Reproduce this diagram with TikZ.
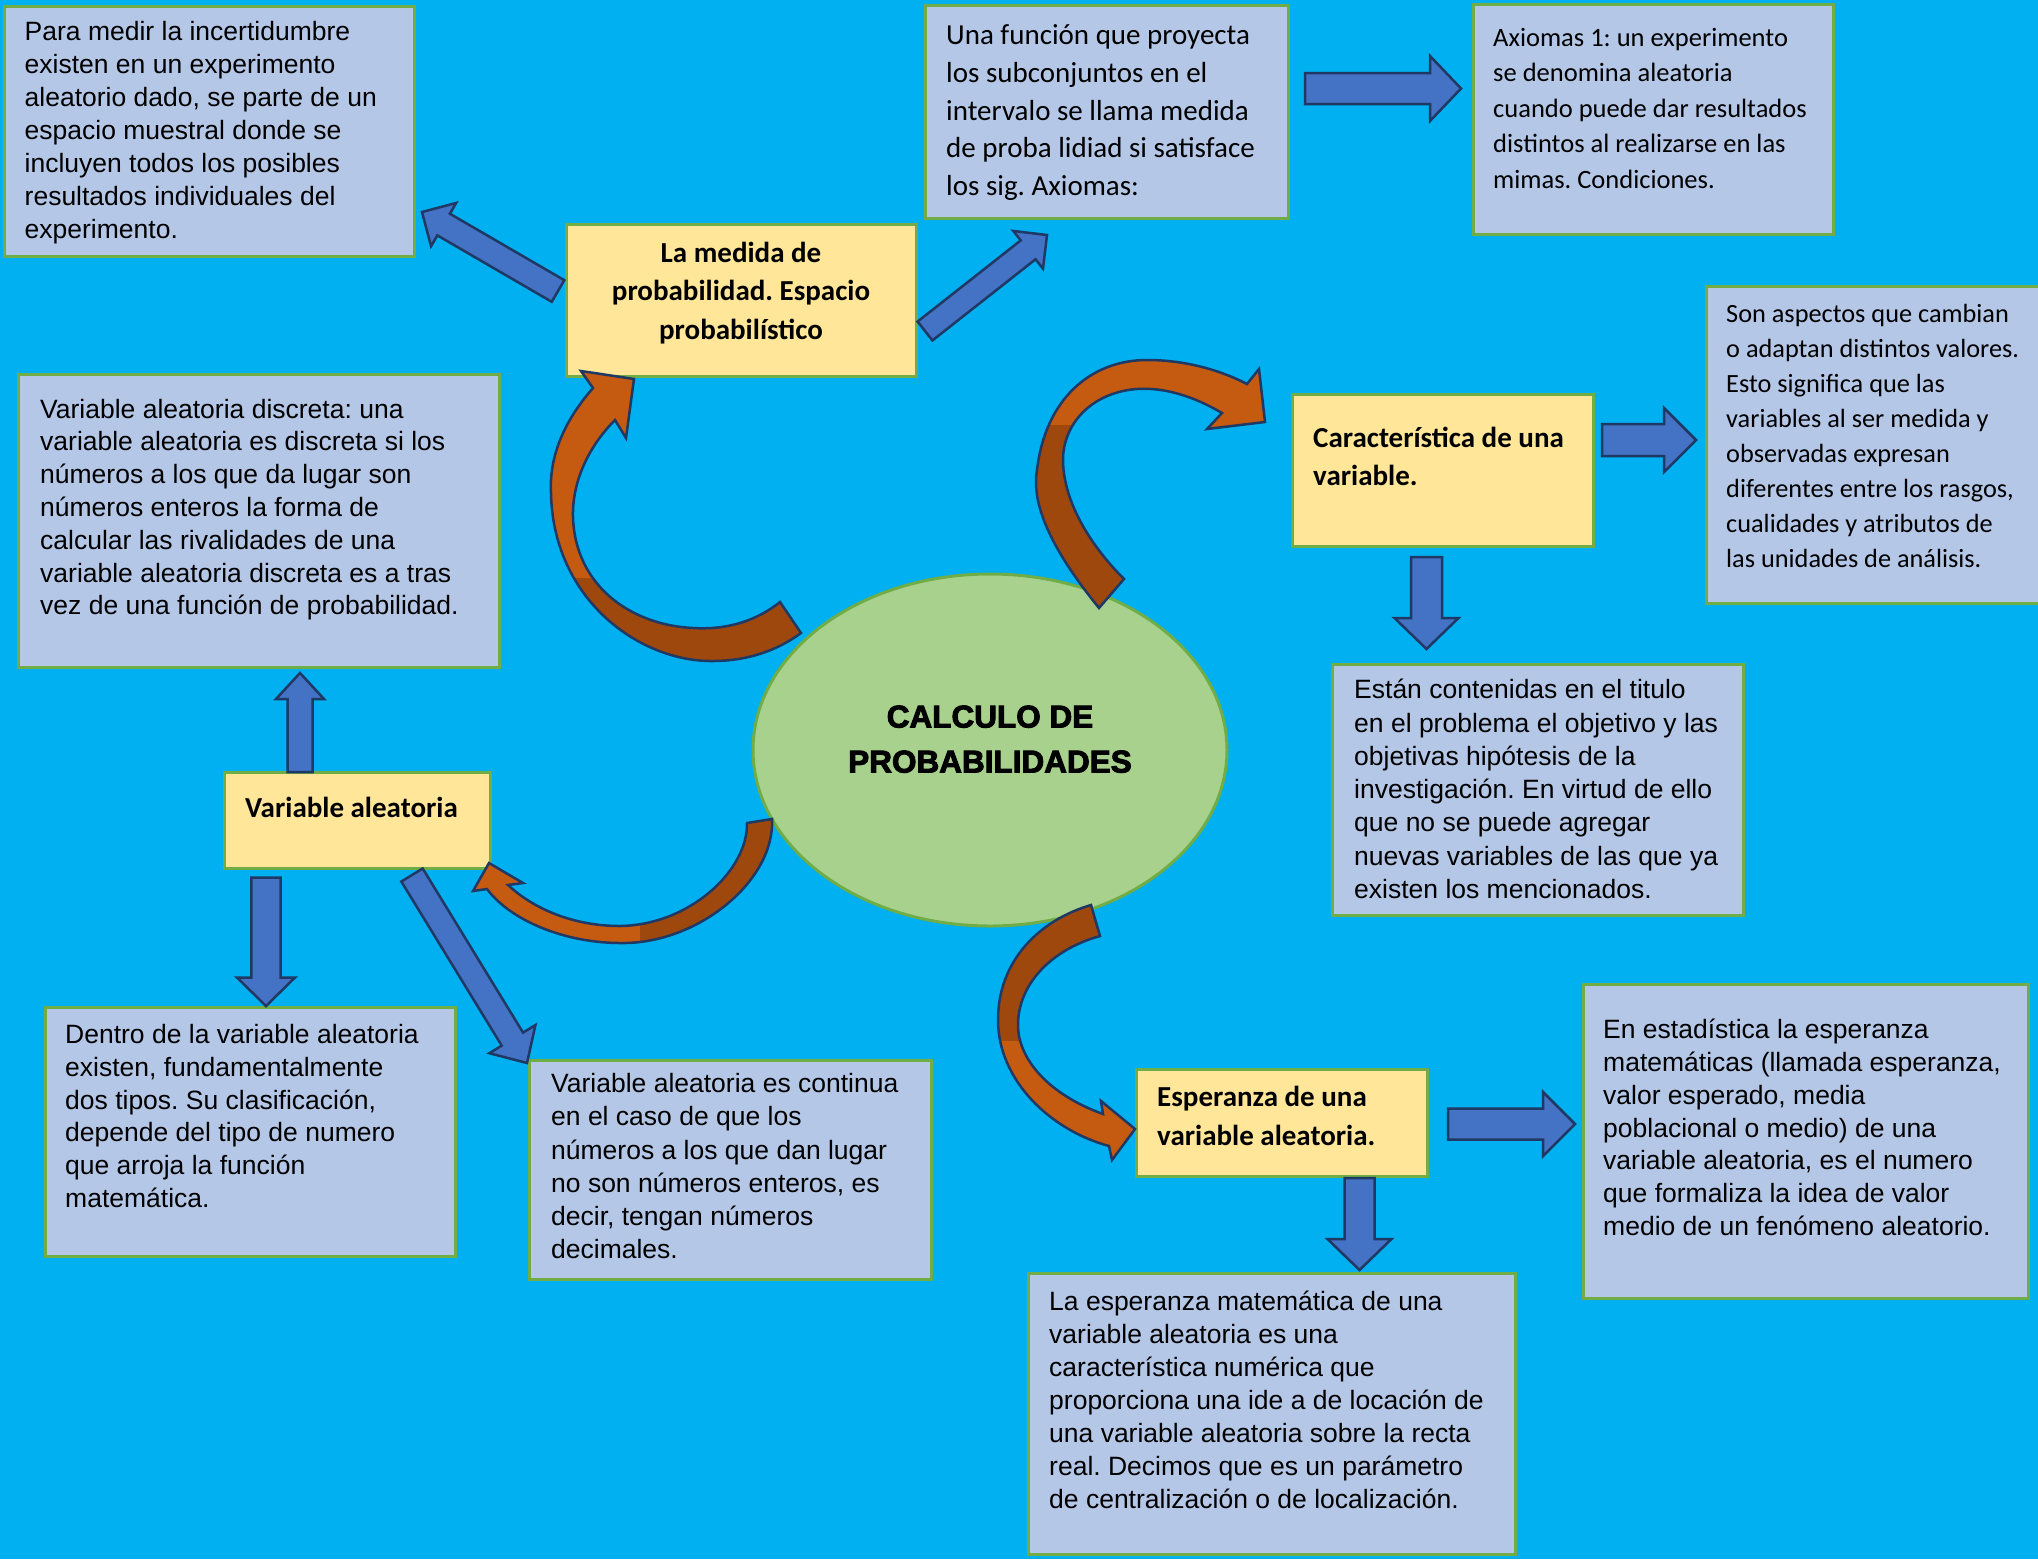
\documentclass[tikz,border=0pt]{standalone}
\usepackage{fontspec}
\setmainfont{Liberation Sans}
\newfontfamily\calib{Carlito}
\newfontfamily\blk{Liberation Sans}[BoldFeatures={FakeBold=3}]
\usetikzlibrary{calc,shapes.geometric}
\definecolor{bg}{HTML}{00B0F0}
\definecolor{boxblue}{HTML}{B4C7E7}
\definecolor{boxyel}{HTML}{FFE699}
\definecolor{grn}{HTML}{70AD47}
\definecolor{ell}{HTML}{A9D18E}
\definecolor{arrblue}{HTML}{4472C4}
\definecolor{navy}{HTML}{203864}
\definecolor{orL}{HTML}{C55A11}
\definecolor{orD}{HTML}{9E480E}
\tikzset{
  bluebox/.style={draw=grn, fill=boxblue, line width=3pt, inner sep=0pt, outer sep=0pt},
  yelbox/.style={draw=grn, fill=boxyel, line width=3pt, inner sep=0pt, outer sep=0pt},
  ariatext/.style={anchor=west, align=left, inner sep=0pt, text=black},
  barr/.style={fill=arrblue, draw=navy, line width=2.5pt},
  orborder/.style={draw=navy, line width=2.5pt},
}
\newcommand\blockarr[5]{%
  \path ($(#2)!#5!(#1)$) coordinate (bh);
  \draw[barr] ($(#1)!#3!90:(#2)$) -- ($(bh)!#3!90:(#2)$) -- ($(bh)!#4!90:(#2)$) -- (#2)
     -- ($(bh)!#4!-90:(#2)$) -- ($(bh)!#3!-90:(#2)$) -- ($(#1)!#3!-90:(#2)$) -- cycle;
}
\newcommand\arialtext{\fontsize{26.5}{33}\selectfont}
\frenchspacing
\begin{document}
\begin{tikzpicture}[x=1pt,y=-1pt]
\useasboundingbox (0,0) rectangle (2038,1559);
\fill[bg] (0,0) rectangle (2038,1559);

% ---------- boxes ----------
\node[bluebox, minimum width=410pt, minimum height=250pt] (b1) at (209,131) {};
\node[yelbox, minimum width=350pt, minimum height=152pt] (y1) at (741,300) {};
\node[bluebox, minimum width=363pt, minimum height=213pt] (b2) at (1106.5,111.5) {};
\node[bluebox, minimum width=360pt, minimum height=230pt] (b3) at (1653,119) {};
\node[yelbox, minimum width=301pt, minimum height=152pt] (y2) at (1442.5,470) {};
\node[bluebox, minimum width=336pt, minimum height=317pt] (b4) at (1874,444.5) {};
\node[bluebox, minimum width=481pt, minimum height=293pt] (b5) at (258.5,520.5) {};
\node[bluebox, minimum width=411pt, minimum height=251pt] (b6) at (1537.5,789.5) {};
\node[yelbox, minimum width=266pt, minimum height=96pt] (y3) at (357,820) {};
\node[bluebox, minimum width=410pt, minimum height=249pt] (b7) at (250,1131.5) {};
\node[bluebox, minimum width=402pt, minimum height=219pt] (b8) at (730,1169.5) {};
\node[yelbox, minimum width=291pt, minimum height=107pt] (y4) at (1281.5,1122.5) {};
\node[bluebox, minimum width=445pt, minimum height=314pt] (b9) at (1805.5,1141) {};
\node[bluebox, minimum width=487pt, minimum height=281pt] (b10) at (1271.5,1413.5) {};
\node[ellipse, draw=grn, fill=ell, line width=3pt, minimum width=474pt, minimum height=352pt, inner sep=0pt] (cen) at (990,750) {};

% ---------- texts ----------
\node[ariatext, font=\arialtext] (t1) at (24.5,133) {\strut Para medir la incertidumbre\\existen en un experimento\\aleatorio dado, se parte de un\\espacio muestral donde se\\incluyen todos los posibles\\resultados individuales del\\experimento.\strut};
\node[inner sep=0pt, align=center, font=\calib\bfseries\fontsize{29}{38.5}\selectfont] (t2) at (741,293) {\strut La medida de\\probabilidad. Espacio\\probabilístico\strut};
\node[ariatext, font=\calib\fontsize{29}{37.8}\selectfont] (t3) at (946,112.5) {\strut Una función que proyecta\\los subconjuntos en el\\intervalo se llama medida\\de proba lidiad si satisface\\los sig. Axiomas:\strut};
\node[ariatext, font=\calib\fontsize{26.5}{35.5}\selectfont] (t4) at (1493,110) {\strut Axiomas 1: un experimento\\se denomina aleatoria\\cuando puede dar resultados\\distintos al realizarse en las\\mimas. Condiciones.\strut};
\node[ariatext, font=\calib\bfseries\fontsize{29}{38}\selectfont] (t5) at (1313,459) {\strut Característica de una\\variable.\strut};
\node[ariatext, font=\calib\fontsize{26.3}{35}\selectfont] (t6) at (1726,437.5) {\strut Son aspectos que cambian\\o adaptan distintos valores.\\Esto significa que las\\variables al ser medida y\\observadas expresan\\diferentes entre los rasgos,\\cualidades y atributos de\\las unidades de análisis.\strut};
\node[ariatext, font=\fontsize{26.5}{32.8}\selectfont] (t7) at (40,510) {\strut Variable aleatoria discreta: una\\variable aleatoria es discreta si los\\números a los que da lugar son\\números enteros la forma de\\calcular las rivalidades de una\\variable aleatoria discreta es a tras\\vez de una función de probabilidad.\strut};
\node[inner sep=0pt, align=center, font=\blk\bfseries\fontsize{31.5}{45}\selectfont] (t8) at (990,741) {\strut CALCULO DE\\PROBABILIDADES\strut};
\node[ariatext, font=\fontsize{26.5}{33.3}\selectfont] (t9) at (1354,792) {\strut Están contenidas en el titulo\\en el problema el objetivo y las\\objetivas hipótesis de la\\investigación. En virtud de ello\\que no se puede agregar\\nuevas variables de las que ya\\existen los mencionados.\strut};
\node[ariatext, font=\calib\bfseries\fontsize{29}{38}\selectfont] (t10) at (245,810) {\strut Variable aleatoria};
\node[ariatext, font=\fontsize{26.5}{32.8}\selectfont] (t11) at (65,1119) {\strut Dentro de la variable aleatoria\\existen, fundamentalmente\\dos tipos. Su clasificación,\\depende del tipo de numero\\que arroja la función\\matemática.\strut};
\node[ariatext, font=\fontsize{26.5}{33.2}\selectfont] (t12) at (551,1169) {\strut Variable aleatoria es continua\\en el caso de que los\\números a los que dan lugar\\no son números enteros, es\\decir, tengan números\\decimales.\strut};
\node[ariatext, font=\calib\bfseries\fontsize{29}{39}\selectfont] (t13) at (1157,1118.5) {\strut Esperanza de una\\variable aleatoria.\strut};
\node[ariatext, font=\fontsize{26.5}{32.8}\selectfont] (t14) at (1603,1130.5) {\strut En estadística la esperanza\\matemáticas (llamada esperanza,\\valor esperado, media\\poblacional o medio) de una\\variable aleatoria, es el numero\\que formaliza la idea de valor\\medio de un fenómeno aleatorio.\strut};
\node[ariatext, font=\fontsize{26.5}{33}\selectfont] (t15) at (1049,1403) {\strut La esperanza matemática de una\\variable aleatoria es una\\característica numérica que\\proporciona una ide a de locación de\\una variable aleatoria sobre la recta\\real. Decimos que es un parámetro\\de centralización o de localización.\strut};

% ---------- blue block arrows ----------
\coordinate (a1t) at (558,291);   \coordinate (a1h) at (422,212);
\blockarr{a1t}{a1h}{12.5pt}{25pt}{25pt}
\coordinate (a2t) at (925,331);   \coordinate (a2h) at (1047,235);
\blockarr{a2t}{a2h}{12pt}{24pt}{24pt}
\coordinate (a3t) at (1305,88.5); \coordinate (a3h) at (1461,88.5);
\blockarr{a3t}{a3h}{15.5pt}{32.5pt}{31pt}
\coordinate (a4t) at (1602,440);  \coordinate (a4h) at (1696,440);
\blockarr{a4t}{a4h}{16pt}{32pt}{32pt}
\coordinate (a5t) at (1426.5,557); \coordinate (a5h) at (1426.5,649);
\blockarr{a5t}{a5h}{15.5pt}{32pt}{31pt}
\coordinate (a6t) at (300,772);   \coordinate (a6h) at (300,673);
\blockarr{a6t}{a6h}{12.5pt}{24pt}{26pt}
\coordinate (a7t) at (266,877.5); \coordinate (a7h) at (266,1006);
\blockarr{a7t}{a7h}{14.7pt}{29pt}{28.5pt}
\coordinate (a8t) at (412,875);   \coordinate (a8h) at (527,1063);
\blockarr{a8t}{a8h}{12.5pt}{27pt}{28pt}
\coordinate (a9t) at (1448,1124); \coordinate (a9h) at (1575,1124);
\blockarr{a9t}{a9h}{15.5pt}{32pt}{32pt}
\coordinate (a10t) at (1359.5,1178); \coordinate (a10h) at (1359.5,1270);
\blockarr{a10t}{a10h}{15pt}{32pt}{31pt}

% ---------- orange curved arrows ----------
\def\arrA{(780,602) .. controls (755,622) and (725,630) .. (693,628)
  .. controls (630,625) and (575,585) .. (573,517)
  .. controls (572,480) and (590,445) .. (615,420)
  -- (626,438) -- (634,379) -- (581,371) -- (593,388)
  .. controls (565,420) and (549,455) .. (551,493)
  .. controls (553,600) and (640,662) .. (713,661)
  .. controls (748,661) and (778,650) .. (801,633) -- cycle}
\fill[orL] \arrA;
\begin{scope}\clip (500,578) rectangle (850,700); \fill[orD] \arrA; \end{scope}
\draw[orborder] \arrA;

\def\arrB{(1099,608) .. controls (1060,560) and (1030,510) .. (1037,470)
  .. controls (1045,400) and (1090,360) .. (1147,360)
  .. controls (1185,360) and (1220,370) .. (1247,384)
  -- (1259,369) -- (1265,422) -- (1207,429) -- (1222,413)
  .. controls (1195,397) and (1165,387) .. (1137,389)
  .. controls (1095,392) and (1065,420) .. (1063,457)
  .. controls (1062,500) and (1090,545) .. (1124,579) -- cycle}
\fill[orL] \arrB;
\begin{scope}\clip (1000,425) rectangle (1150,640); \fill[orD] \arrB; \end{scope}
\draw[orborder] \arrB;

\def\arrC{(772,819) .. controls (775,880) and (700,942) .. (625,943)
  .. controls (565,944) and (510,920) .. (487,889)
  -- (473,891) -- (489,863) -- (523,883) -- (508,885)
  .. controls (535,910) and (575,926) .. (620,926)
  .. controls (690,925) and (748,870) .. (747,823) -- cycle}
\fill[orL] \arrC;
\begin{scope}\clip (640,800) rectangle (800,960); \fill[orD] \arrC; \end{scope}
\draw[orborder] \arrC;

\def\arrD{(1091,905) .. controls (1040,920) and (998,960) .. (998,1020)
  .. controls (998,1080) and (1050,1130) .. (1109,1146)
  -- (1112,1160) -- (1135,1129) -- (1101,1101) -- (1103,1114)
  .. controls (1050,1095) and (1018,1060) .. (1018,1025)
  .. controls (1018,985) and (1050,950) .. (1100,936) -- cycle}
\fill[orL] \arrD;
\begin{scope}\clip (980,890) rectangle (1110,1040); \fill[orD] \arrD; \end{scope}
\draw[orborder] \arrD;
\end{tikzpicture}
\end{document}
